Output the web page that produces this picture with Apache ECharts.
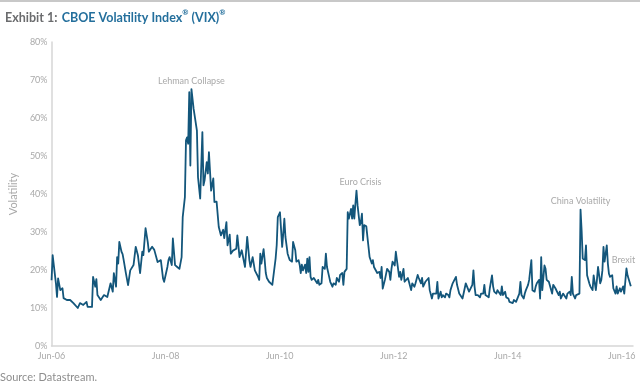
<!DOCTYPE html>
<html>
<head>
<meta charset="utf-8">
<script src="https://cdn.jsdelivr.net/npm/echarts@6/dist/echarts.min.js"></script>
<style>
html,body{margin:0;padding:0;background:#fff;}
#chart{width:640px;height:384px;}
</style>
</head>
<body>
<div id="chart"></div>
<script>
// Weeks elapsed since early June 2006 (x) and VIX level in % (y)
var weeks = [0,1,4,5,6,8,10,11,14,17,20,24,26,29,32,33,37,38,40,41,42,45,48,51,54,56,57,59,60,61,62,64,65,66,68,70,72,75,77,79,81,83,84,86,88,89,92,94,97,100,102,103,106,107,108,110,111,113,115,117,119,120,122,123,124,125,126,127,128,130,131,133,134,136,138,139,140,142,143,144,146,148,149,151,153,155,157,158,160,161,163,164,166,169,170,
172,174,175,177,179,181,182,184,186,187,189,190,191,192,194,195,196,197,199,200,202,203,205,206,207,209,210,211,212,213,214,216,217,218,220,221,223,224,226,227,228,229,230,232,233,234,235,236,237,238,240,241,243,244,245,247,248,250,251,252,254,255,257,258,260,261,263,264,266,267,268,270,271,272,274,275,276,277,278,279,280,282,283,284,285,286,288,289,290,291,293,294,295,296,298,299,300,301,302,303,305,306,307,309,310,311,312,314,315,316,318,319,320,322,323,324,326,327,329,330,332,333,335,336,338,339,340,342,343,345,346,348,349,350,
352,353,354,356,357,358,360,361,363,364,365,367,368,370,371,373,374,376,377,379,380,382,383,385,386,387,388,390,392,393,395,396,397,398,400,401,403,404,405,407,408,409,411,412,413,415,416,418,419,420,422,423,425,426,428,429,430,432,433,434,436,437,439,440,442,443,444,446,447,448,449,451,452,453,455,456,458,459,461,462,464,465,466,468,469,471,472,474,475,476,477,479,480,481,483,484,485,486,488,489,490,492,493,495,496,498,499,500,502,503,504,505,506,508,509,510,511,513,514,516,517,518,520,521,523,524,526,527,528,530];
var vix = [17.3,23.9,16.5,12.9,17.8,14.7,15.2,12.6,12.1,12.1,11.3,10.0,11.3,10.8,11.6,10.3,10.3,18.2,15.6,17.6,13.4,12.1,13.4,12.9,16.5,14.3,19.2,15.6,23.4,21.7,27.4,24.8,24.2,22.6,19.2,16.0,19.9,21.3,26.1,23.9,19.2,24.8,23.9,31.0,27.4,24.8,26.1,25.3,22.1,22.6,17.8,16.9,20.8,22.6,23.4,21.3,28.3,21.3,20.8,20.3,23.4,33.9,39.2,54.1,54.9,53.2,66.8,47.5,67.6,62.4,62.9,56.7,44.4,38.8,56.3,42.3,43.6,48.4,45.4,51.0,40.9,44.1,37.9,38.0,31.3,29.1,30.6,28.4,32.6,26.5,29.3,24.3,25.1,25.6,29.1,
23.4,25.2,25.5,20.8,28.7,22.6,20.8,23.4,19.9,19.5,18.2,17.4,24.3,21.7,25.5,22.6,19.2,17.9,16.9,16.5,16.1,15.8,23.0,26.5,33.9,35.2,35.2,26.1,29.6,33.5,28.7,24.3,23.4,22.6,22.2,27.4,25.2,22.2,22.6,21.4,19.2,21.4,19.9,21.4,19.2,23.0,19.5,23.4,18.2,17.4,17.9,17.4,16.5,17.4,16.1,16.5,20.8,20.3,24.3,20.8,18.2,16.9,15.6,16.5,16.1,17.9,16.9,18.7,19.2,16.1,19.5,20.3,35.2,33.5,36.1,33.5,37.0,33.5,37.4,40.9,37.0,31.8,32.6,34.8,27.8,31.8,31.5,28.7,26.1,23.4,21.7,22.6,20.8,21.2,19.2,18.7,19.5,17.9,20.8,15.1,17.4,16.9,20.3,19.5,17.4,20.3,22.2,21.2,24.8,22.6,18.2,19.5,17.4,20.3,16.9,16.5,17.9,16.9,14.7,16.5,15.6,16.5,18.7,17.9,16.5,17.9,15.6,16.9,16.5,17.9,14.7,12.5,13.8,13.3,
13.8,16.9,12.5,14.3,12.8,13.4,12.8,13.8,13.4,12.8,14.7,16.5,16.9,18.2,16.1,13.8,13.4,12.5,13.8,16.5,16.1,14.3,14.3,16.1,19.9,15.7,13.4,13.4,12.8,13.8,13.8,16.1,13.4,13.4,12.8,15.2,18.6,15.7,14.3,13.8,14.7,14.3,13.4,15.7,13.4,14.3,12.8,12.5,11.6,12.1,11.3,12.1,11.6,12.1,13.8,16.9,13.4,12.5,13.8,14.7,16.1,17.4,22.6,14.7,14.3,15.7,16.5,17.4,12.5,23.4,14.7,21.2,20.3,17.4,16.9,16.5,13.8,16.1,15.2,14.7,13.4,14.3,12.5,13.8,13.4,12.5,13.8,14.3,13.4,18.2,13.8,12.5,13.4,13.4,13.8,35.9,30.4,23.0,22.6,26.5,18.6,16.5,15.7,14.7,18.6,14.7,17.4,20.8,16.5,17.4,19.9,26.1,22.2,26.5,21.7,19.0,18.2,18.6,15.2,13.8,15.7,13.8,15.2,14.3,15.7,13.8,20.4,18.6,18.2,15.7];

var tickLabels = ['Jun-06','Jun-08','Jun-10','Jun-12','Jun-14','Jun-16'];
var twoYears = 730.5 / 7; // weeks per two years
var noteTexts = ['Lehman Collapse','Euro Crisis','China Volatility','Brexit'];
var noteWeeks = [128, 279, 484, 526];
var noteShift = [0, 4, 0, -3];

var seriesData = weeks.map(function (w, i) { return [w, vix[i]]; });
var notes = noteTexts.map(function (t, i) {
  var idx = weeks.indexOf(noteWeeks[i]);
  return {
    coord: [noteWeeks[i], vix[idx]],
    label: { formatter: t, offset: [noteShift[i], 0] }
  };
});

var chart = echarts.init(document.getElementById('chart'), null, { renderer: 'canvas' });
chart.setOption({
  animation: false,
  backgroundColor: '#fff',
  textStyle: { fontFamily: 'Lato' },
  title: {
    left: 0, top: 4,
    text: '{a|Exhibit 1:} {b|CBOE Volatility Index}{r|®}{b| (VIX)}{r|®}',
    textStyle: {
      rich: {
        a: { fontFamily: 'Lato', fontSize: 12.5, fontWeight: 'bold', color: '#6b6c6e' },
        b: { fontFamily: 'Lato', fontSize: 12.5, fontWeight: 'bold', color: '#246f9c' },
        r: { fontFamily: 'Lato', fontSize: 7.5, fontWeight: 'bold', color: '#246f9c', verticalAlign: 'top', padding: [0, 0, 6, 0] }
      }
    }
  },
  graphic: [
    { type: 'rect', left: 0, top: 0, shape: { width: 640, height: 2 }, style: { fill: '#c8c8c8' } },
    { type: 'text', left: 0, top: 372, style: { text: 'Source: Datastream.', fontFamily: 'Lato', fontSize: 11, fill: '#8e8e8e' } }
  ],
  grid: { left: 37, right: 7, top: 42, bottom: 38, containLabel: false },
  xAxis: {
    type: 'value',
    min: 0, max: 532, interval: twoYears,
    axisLine: { show: true, lineStyle: { color: '#d6d6d6', width: 1.5 } },
    axisTick: { show: false },
    splitLine: { show: false },
    axisLabel: {
      color: '#a9a9a9', fontSize: 9, margin: 6,
      formatter: function (v) {
        var k = v / twoYears, r = Math.round(k);
        return Math.abs(k - r) < 0.01 ? tickLabels[r] : '';
      }
    }
  },
  yAxis: {
    type: 'value',
    min: 0, max: 80, interval: 10,
    name: 'Volatility', nameLocation: 'middle', nameGap: 28, nameRotate: 90,
    nameTextStyle: { color: '#a9a9a9', fontSize: 11 },
    axisLine: { show: true, lineStyle: { color: '#d6d6d6', width: 1.5 } },
    axisTick: { show: false },
    splitLine: { show: false },
    axisLabel: { color: '#a9a9a9', fontSize: 9, margin: 4, formatter: '{value}%' }
  },
  series: [{
    type: 'line',
    data: seriesData,
    showSymbol: false,
    symbol: 'none',
    lineStyle: { color: '#13567b', width: 1.8, join: 'round' },
    markPoint: {
      symbol: 'circle', symbolSize: 0,
      silent: true,
      label: { show: true, position: 'top', distance: 4, color: '#a9a9a9', fontSize: 9, fontFamily: 'Lato' },
      data: notes
    }
  }]
});
</script>
</body>
</html>
